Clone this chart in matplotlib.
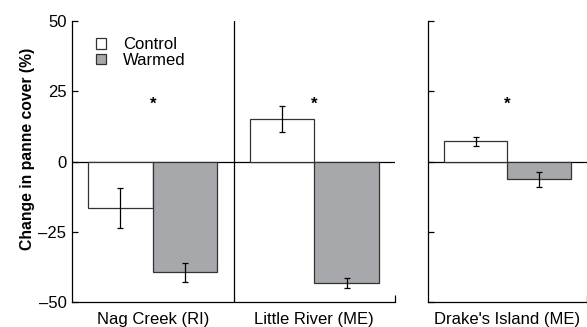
import matplotlib
matplotlib.use("Agg")
import matplotlib.pyplot as plt
from matplotlib.patches import Patch
import numpy as np

plt.rcParams['font.family'] = ['Liberation Sans', 'DejaVu Sans']

sites_left = ["Nag Creek (RI)", "Little River (ME)"]
sites_right = ["Drake's Island (ME)"]
control = [-16.5, 15.2, 7.2]
control_se = [7.0, 4.6, 1.6]
warmed = [-39.5, -43.2, -6.4]
warmed_se = [3.4, 1.7, 2.6]
star_y = [20.5, 20.5, 20.5]
yticks = [-50, -25, 0, 25, 50]
series_names = ["Control", "Warmed"]

W, H = 587, 327
fig = plt.figure(figsize=(W / 100, H / 100), dpi=100)

def px_axes(l, r, t, b):
    return fig.add_axes([l / W, (H - b) / H, (r - l) / W, (b - t) / H])

ax1 = px_axes(72, 395, 21, 302)
ax3 = px_axes(428, 586.5, 21, 302)

ctrl_color = "white"
warm_color = "#a7a8ab"
edge = "#333333"
bw = 0.4
lw = 0.9

def draw(ax, idx, names):
    x = np.arange(len(names))
    c = [control[i] for i in idx]
    cs = [control_se[i] for i in idx]
    w = [warmed[i] for i in idx]
    ws = [warmed_se[i] for i in idx]
    ax.bar(x - bw / 2, c, bw, color=ctrl_color, edgecolor=edge, linewidth=lw, zorder=2)
    ax.bar(x + bw / 2, w, bw, color=warm_color, edgecolor=edge, linewidth=lw, zorder=2)
    ax.errorbar(x - bw / 2, c, yerr=cs, fmt='none', ecolor='black', elinewidth=0.9,
                capsize=2.2, capthick=0.9, zorder=3)
    ax.errorbar(x + bw / 2, w, yerr=ws, fmt='none', ecolor='black', elinewidth=0.9,
                capsize=2.2, capthick=0.9, zorder=3)
    for xi, i in zip(x, idx):
        ax.text(xi, star_y[i], "*", ha='center', va='center', fontsize=12,
                fontweight='bold', color='black')
    ax.axhline(0, color='black', linewidth=0.9, zorder=1)
    ax.set_ylim(-50, 50)
    ax.set_xlim(-0.5, len(names) - 0.5)
    ax.set_xticks(x)
    ax.set_xticklabels(names, fontsize=12)
    ax.set_xticks([len(names) - 0.5], minor=True)
    ax.tick_params(axis='x', which='major', length=0, pad=7)
    ax.tick_params(axis='x', which='minor', direction='in', length=5, width=0.9)
    ax.set_yticks(yticks)
    ax.tick_params(axis='y', direction='in', length=4, width=0.9, labelsize=12, pad=4)
    for s in ['top', 'right']:
        ax.spines[s].set_visible(False)
    for s in ['left', 'bottom']:
        ax.spines[s].set_linewidth(0.9)

draw(ax1, [0, 1], sites_left)
ax1.axvline(0.5, color='black', linewidth=0.9, zorder=1)
ax1.set_yticklabels([f"{v}".replace('-', '\u2013') for v in yticks])
ax1.set_ylabel("Change in panne cover (%)", fontsize=11.3, fontweight='bold')
ax1.yaxis.set_label_coords((35 - 72) / 323, (302 - 149) / 281)

draw(ax3, [2], sites_right)
ax3.set_yticklabels([])

handles = [Patch(facecolor=ctrl_color, edgecolor=edge, linewidth=lw),
           Patch(facecolor=warm_color, edgecolor=edge, linewidth=lw)]
ax1.legend(handles, series_names, loc='upper left', bbox_to_anchor=(96 / W, (H - 37) / H),
           bbox_transform=fig.transFigure, frameon=False, fontsize=12,
           handlelength=0.62, handleheight=0.62, handletextpad=1.0, labelspacing=0.05,
           borderpad=0, borderaxespad=0)

fig.savefig("out.png", dpi=100)
